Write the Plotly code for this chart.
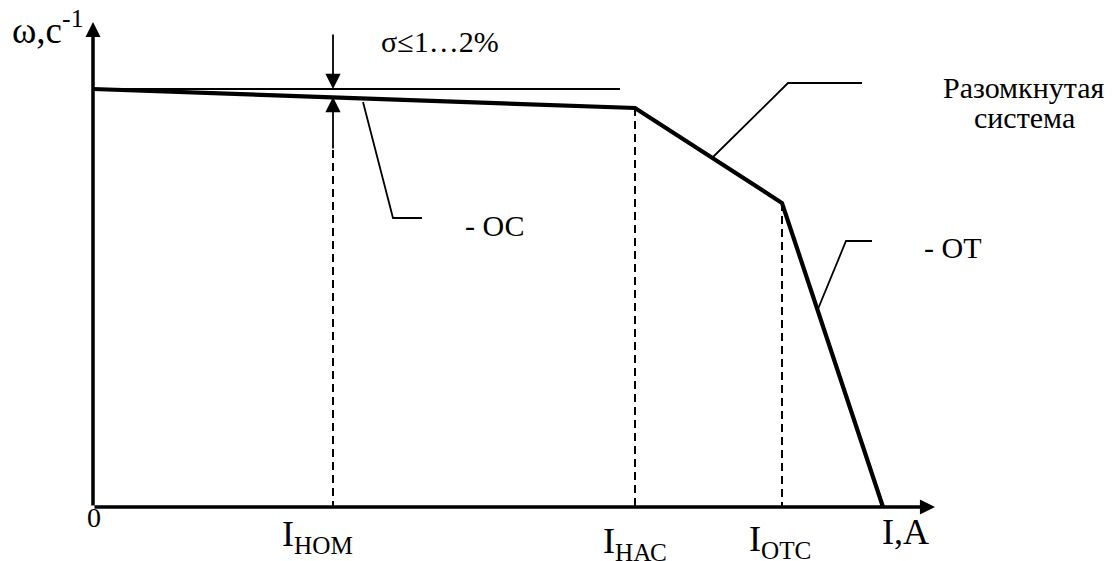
import plotly.graph_objects as go

# ---- data (units: I in arbitrary current units, omega in arbitrary speed units) ----
I_char = [0.0, 5.42, 6.89, 7.90]          # breakpoints of the characteristic
w_char = [4.18, 3.99, 3.04, 0.0]
I_nom = 2.40
w_nom = 4.10                              # speed on the characteristic at I_nom
I_nas = 5.42
w_nas = 3.99
I_ots = 6.89
w_ots = 3.04
w_ideal = 4.18                            # ideal no-load speed
I_ideal_end = 5.27
I_axis_end = 8.42
w_axis_end = 4.85

# leader lines
oc_leader_I = [2.70, 3.00, 3.29]
oc_leader_w = [4.05, 2.89, 2.89]
open_leader_I = [6.20, 6.95, 7.69]
open_leader_w = [3.50, 4.24, 4.24]
ot_leader_I = [7.25, 7.53, 7.79]
ot_leader_w = [1.98, 2.66, 2.66]

sigma_top_w = 4.74
sigma_bottom_w = 3.57

tick_vals = [I_nom, I_nas, I_ots]
tick_text = ["I<sub>НОМ</sub>", "I<sub>НАС</sub>", "I<sub>ОТС</sub>"]

FONT = "Liberation Serif, Times New Roman, Tinos, DejaVu Serif, serif"
BLACK = "#000000"

fig = go.Figure()

def line(xs, ys, width, dash=None):
    fig.add_trace(go.Scatter(x=xs, y=ys, mode="lines",
                             line=dict(color=BLACK, width=width, dash=dash),
                             hoverinfo="skip", showlegend=False))

# ideal speed line
line([0, I_ideal_end], [w_ideal, w_ideal], 1.8)
# dashed verticals
line([I_nom, I_nom], [sigma_bottom_w, 0], 2.0, "8px,5px")
line([I_nas, I_nas], [w_nas, 0], 2.0, "8px,5px")
line([I_ots, I_ots], [w_ots, 0], 2.0, "8px,5px")
# leaders
line(oc_leader_I, oc_leader_w, 1.8)
line(open_leader_I, open_leader_w, 1.8)
line(ot_leader_I, ot_leader_w, 1.8)
# main characteristic
line(I_char, w_char, 4.2)

annotations = []

def arrow(x, y, ax, ay, width, size):
    annotations.append(dict(x=x, y=y, ax=ax, ay=ay, xref="x", yref="y",
                            axref="x", ayref="y", text="", showarrow=True,
                            arrowhead=2, arrowwidth=width, arrowsize=size,
                            arrowcolor=BLACK, standoff=0, startstandoff=0))

# axes
arrow(I_axis_end, 0, 0, 0, 3.5, 0.86)
arrow(0, w_axis_end, 0, 0, 3.5, 0.86)
# sigma arrows
arrow(I_nom, w_ideal, I_nom, sigma_top_w, 1.8, 1.7)
arrow(I_nom, w_nom, I_nom, sigma_bottom_w, 1.8, 1.7)

def text(x, y, s, size, xanchor="left", yanchor="middle"):
    annotations.append(dict(x=x, y=y, xref="x", yref="y", text=s,
                            showarrow=False, xanchor=xanchor, yanchor=yanchor,
                            font=dict(family=FONT, size=size, color=BLACK)))

text(-0.83, 4.54, "ω,с<sup>-1</sup>", 37, "left", "bottom")
text(3.47, 4.66, "σ≤1…2%", 30, "center", "middle")
text(3.70, 2.82, "- ОС", 30, "left", "middle")
text(8.29, 2.60, "- ОТ", 30, "left", "middle")
text(9.31, 4.20, "Разомкнутая", 30, "center", "middle")
text(9.31, 3.90, "система", 30, "center", "middle")
text(0.01, -0.10, "0", 28, "center", "middle")
text(7.87, -0.03, "I,A", 36, "left", "top")
label_shift = [-0.16, 0.0, -0.02]
label_top = [-0.05, -0.12, -0.10]
for v, t, sh, tp in zip(tick_vals, tick_text, label_shift, label_top):
    text(v + sh, tp, t, 36, "center", "top")

fig.update_layout(
    width=1114, height=561, autosize=False,
    margin=dict(l=0, r=0, t=0, b=0, pad=0),
    paper_bgcolor="white", plot_bgcolor="white",
    font=dict(family=FONT),
    xaxis=dict(visible=False, range=[-0.93, 10.21], fixedrange=True),
    yaxis=dict(visible=False, range=[-0.54, 5.07], fixedrange=True),
    annotations=annotations,
    showlegend=False,
)

fig.write_html("out.html", config={"displayModeBar": False},
               post_script="document.body.style.margin='0';document.body.style.overflow='hidden';")
